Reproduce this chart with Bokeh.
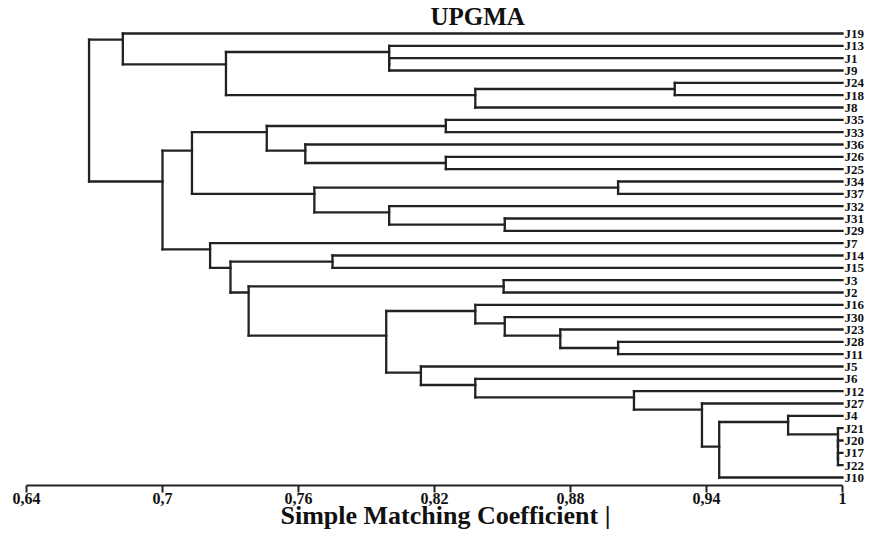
from bokeh.plotting import figure
from bokeh.models import Range1d, FixedTicker, ColumnDataSource
from bokeh.embed import file_html
from bokeh.resources import INLINE
from bokeh.core.properties import value

title_text = "UPGMA"
x_label = "Simple Matching Coefficient |"

# leaf order top -> bottom
leaves = ["J19", "J13", "J1", "J9", "J24", "J18", "J8", "J35", "J33", "J36", "J26", "J25",
          "J34", "J37", "J32", "J31", "J29", "J7", "J14", "J15", "J3", "J2", "J16", "J30",
          "J23", "J28", "J11", "J5", "J6", "J12", "J27", "J4", "J21", "J20", "J17", "J22", "J10"]

# merges: node n{k+1} = (merge_left[k], merge_right[k]) at similarity merge_height[k]
merge_left = ["J24", "n1", "J1", "J13", "n4", "J19", "J35", "J26", "J36", "n7", "J34", "J31",
              "J32", "n11", "n10", "J14", "J3", "J28", "J23", "J30", "J16", "J17", "J20", "J21",
              "J4", "n25", "J27", "J12", "J6", "J5", "n21", "n17", "n16", "J7", "n15", "n6"]
merge_right = ["J18", "J8", "J9", "n3", "n2", "n5", "J33", "J25", "n8", "n9", "J37", "J29",
               "n12", "n13", "n14", "J15", "J2", "J11", "n18", "n19", "n20", "J22", "n22", "n23",
               "n24", "J10", "n26", "n27", "n28", "n29", "n30", "n31", "n32", "n33", "n34", "n35"]
merge_height = [0.926, 0.838, 0.800, 0.800, 0.728, 0.6825, 0.825, 0.825, 0.763, 0.746, 0.901, 0.851,
                0.800, 0.767, 0.713, 0.775, 0.8505, 0.901, 0.8755, 0.851, 0.838, 0.998, 0.998, 0.998,
                0.976, 0.9456, 0.938, 0.908, 0.838, 0.814, 0.7987, 0.738, 0.730, 0.721, 0.700, 0.6676]

tick_values = [0.64, 0.70, 0.76, 0.82, 0.88, 0.94, 1.0]
tick_labels = ["0,64", "0,7", "0,76", "0,82", "0,88", "0,94", "1"]

# ---- tree geometry ----
xpos, ypos, first = {}, {}, {}
for i, name in enumerate(leaves):
    xpos[name] = 1.0
    ypos[name] = float(i)
    first[name] = float(i)

x0, y0, x1, y1 = [], [], [], []
for k, (a, b, h) in enumerate(zip(merge_left, merge_right, merge_height)):
    node = "n%d" % (k + 1)
    x0.append(h); y0.append(ypos[a]); x1.append(h); y1.append(ypos[b])
    for c in (a, b):
        x0.append(xpos[c]); y0.append(ypos[c]); x1.append(h); y1.append(ypos[c])
    xpos[node] = h
    ypos[node] = (first[a] + first[b]) / 2.0
    first[node] = first[a]

seg = ColumnDataSource(dict(x0=x0, y0=y0, x1=x1, y1=y1))
lab = ColumnDataSource(dict(x=[1.0] * len(leaves), y=[ypos[n] for n in leaves], t=leaves))

W, H = 864, 536
left_b, top_b, bot_b = 26, 28, 51
px_per_unit = (842.0 - 26.0) / 0.36
frame_w = W - left_b
x_end = 0.64 + frame_w / px_per_unit
frame_h = H - top_b - bot_b
pad_top, pad_bot = 4.0, 8.0
s = (frame_h - pad_top - pad_bot) / 36.0
y_top = -pad_top / s
y_bot = 36 + pad_bot / s

p = figure(width=W, height=H, x_range=Range1d(0.64, x_end), y_range=Range1d(y_bot, y_top),
           output_backend="svg", toolbar_location=None,
           min_border_left=left_b, min_border_right=0, min_border_top=top_b, min_border_bottom=bot_b)

p.title.text = title_text
p.title.text_font = "Liberation Serif"
p.title.text_font_style = "bold"
p.title.text_font_size = "25px"
p.title.align = "left"
p.title.offset = 404
p.title.standoff = 0
p.title.text_color = "#111111"

p.segment("x0", "y0", "x1", "y1", source=seg, line_color="#222222", line_width=2.3, line_cap="square")
p.text("x", "y", text="t", source=lab, x_offset=2, text_baseline="middle",
       text_font=value("Liberation Serif"), text_font_style="bold", text_font_size="13px",
       text_color="#111111")

p.yaxis.visible = False
p.xgrid.visible = False
p.ygrid.visible = False
p.outline_line_color = None

ax = p.xaxis[0]
ax.ticker = FixedTicker(ticks=tick_values)
ax.major_label_overrides = {v: l for v, l in zip(tick_values, tick_labels)}
ax.bounds = (0.64, 1.0)
ax.axis_line_width = 2
ax.axis_line_color = "#222222"
ax.major_tick_line_width = 2
ax.major_tick_line_color = "#222222"
ax.major_tick_out = 7
ax.major_tick_in = 0
ax.minor_tick_line_color = None
ax.major_label_standoff = 0
ax.major_label_text_font = "Liberation Serif"
ax.major_label_text_font_style = "bold"
ax.major_label_text_font_size = "16px"
ax.major_label_text_color = "#111111"
ax.axis_label = x_label
ax.axis_label_text_font = "Liberation Serif"
ax.axis_label_text_font_style = "bold"
ax.axis_label_text_font_size = "26px"
ax.axis_label_text_color = "#111111"
ax.axis_label_standoff = -6

open("out.html", "w").write(file_html(p, INLINE))
